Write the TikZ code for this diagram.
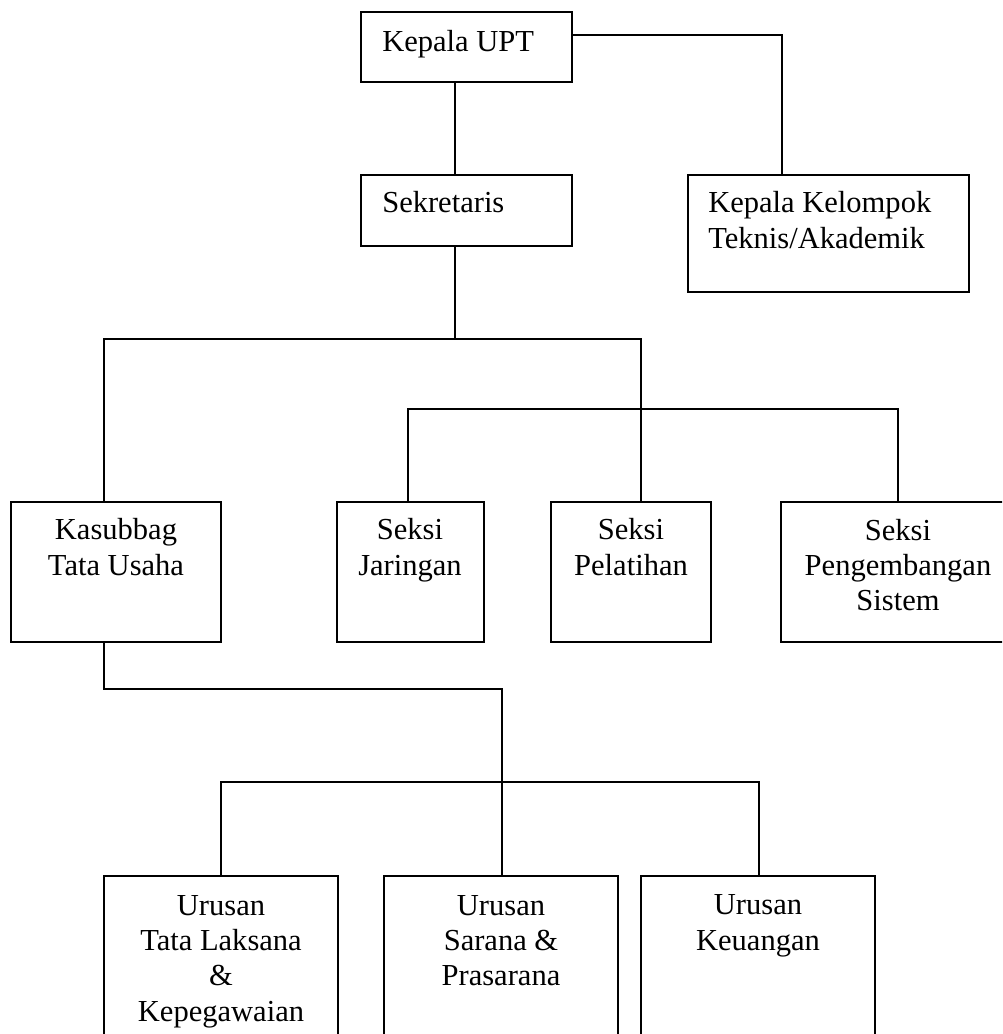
\documentclass[tikz,border=0pt]{standalone}
\usepackage{fontspec}
\setmainfont{Liberation Serif}
\usetikzlibrary{fit}
\begin{document}
\begin{tikzpicture}[x=0.75pt,y=-0.75pt,
  box/.style={draw, line width=1.1pt, inner sep=0pt, rectangle},
  conn/.style={line width=1.1pt},
  lbl/.style={inner sep=0pt, align=center, font=\fontsize{22.9}{26.5}\selectfont},
  lbll/.style={inner sep=0pt, align=left, font=\fontsize{22.9}{26.5}\selectfont}]
\clip (0,0) rectangle (1002,1034);
\useasboundingbox (0,0) rectangle (1002,1034);
% boxes
\node[box, fit={(361,12) (572,82)}] (kupt) {};
\node[box, fit={(361,175) (572,246)}] (sek) {};
\node[box, fit={(688,175) (969,292)}] (kk) {};
\node[box, fit={(11,502) (221,642)}] (kas) {};
\node[box, fit={(337,502) (484,642)}] (sj) {};
\node[box, fit={(551,502) (711,642)}] (sp) {};
\node[box, fit={(781,502) (1015,642)}] (spg) {};
\node[box, fit={(104,876) (338,1060)}] (u1) {};
\node[box, fit={(384,876) (618,1060)}] (u2) {};
\node[box, fit={(641,876) (875,1060)}] (u3) {};
% texts (anchored at the baseline of the last line)
\node[lbll, anchor=base west] (tkupt) at (382,52) {Kepala UPT};
\node[lbll, anchor=base west] (tsek) at (382,213) {Sekretaris};
\node[lbll, anchor=base west] (tkk) at (708,248.3) {Kepala Kelompok\\Teknis/Akademik};
\node[lbl, anchor=base] (tkas) at (116,575.3) {Kasubbag\\Tata Usaha};
\node[lbl, anchor=base] (tsj) at (410,575.3) {Seksi\\Jaringan};
\node[lbl, anchor=base] (tsp) at (631,575.3) {Seksi\\Pelatihan};
\node[lbl, anchor=base] (tspg) at (898,610.7) {Seksi\\Pengembangan\\Sistem};
\node[lbl, anchor=base] (tu1) at (221,1021) {Urusan\\Tata Laksana\\\&\\Kepegawaian};
\node[lbl, anchor=base] (tu2) at (501,985.7) {Urusan\\Sarana \&\\Prasarana};
\node[lbl, anchor=base] (tu3) at (758,950.3) {Urusan\\Keuangan};
% junction coordinates
\coordinate (j1) at (455,339);
\coordinate (j2) at (641,409);
\coordinate (j3) at (502,689);
\coordinate (j4) at (502,782);
% connectors
\draw[conn] (kupt.east |- 0,35) -| (kk.north -| 782,0);
\draw[conn] (kupt.south -| 455,0) -- (sek.north -| 455,0);
\draw[conn] (sek.south -| 455,0) -- (j1);
\draw[conn] (kas.north -| 104,0) |- (j1) -| (sp.north -| 641,0);
\draw[conn] (sj.north -| 408,0) |- (j2) -| (spg.north -| 898,0);
\draw[conn] (kas.south -| 104,0) |- (j3) -- (j4);
\draw[conn] (u1.north -| 221,0) |- (j4) -| (u3.north -| 759,0);
\draw[conn] (j4) -- (u2.north -| 502,0);
\end{tikzpicture}
\end{document}
